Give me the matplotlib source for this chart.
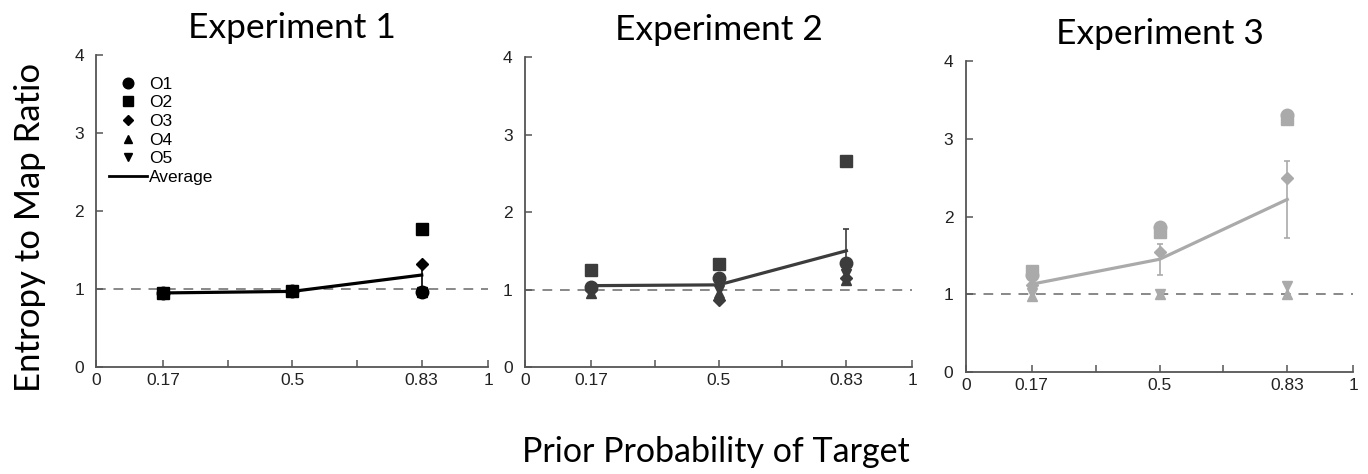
import matplotlib
matplotlib.use("Agg")
import matplotlib.pyplot as plt
from matplotlib.lines import Line2D

# prior probability of target
x = [0.17, 0.5, 0.83]

# experiment 1
e1_o1 = [0.95, 0.97, 0.96]
e1_o2 = [0.95, 0.98, 1.77]
e1_o3 = [0.95, 0.97, 1.32]
e1_o4 = [0.95, 0.97, 0.96]
e1_o5 = [0.95, 0.97, 0.96]
e1_avg = [0.95, 0.97, 1.18]
e1_err = [0.0, 0.0, 0.17]

# experiment 2
e2_o1 = [1.03, 1.15, 1.34]
e2_o2 = [1.25, 1.33, 2.66]
e2_o3 = [1.00, 0.87, 1.15]
e2_o4 = [0.95, 0.95, 1.12]
e2_o5 = [1.00, 1.00, 1.20]
e2_avg = [1.05, 1.06, 1.50]
e2_err = [0.0, 0.0, 0.28]

# experiment 3
e3_o1 = [1.25, 1.87, 3.30]
e3_o2 = [1.30, 1.80, 3.25]
e3_o3 = [1.12, 1.54, 2.50]
e3_o4 = [0.98, 1.00, 1.00]
e3_o5 = [1.02, 1.00, 1.10]
e3_avg = [1.13, 1.45, 2.22]
e3_err = [0.05, 0.20, 0.50]

titles = ["Experiment 1", "Experiment 2", "Experiment 3"]
colors = ["#000000", "#3c3c3c", "#aaaaaa"]
markers = ["o", "s", "D", "^", "v"]
obs_names = ["O1", "O2", "O3", "O4", "O5"]
msizes = [9, 9, 6.5, 7, 7]

xtick_pos = [0, 0.17, 0.335, 0.5, 0.665, 0.83, 1]
xtick_lab = ["0", "0.17", "", "0.5", "", "0.83", "1"]

exps = [
    ([e1_o1, e1_o2, e1_o3, e1_o4, e1_o5], e1_avg, e1_err),
    ([e2_o1, e2_o2, e2_o3, e2_o4, e2_o5], e2_avg, e2_err),
    ([e3_o1, e3_o2, e3_o3, e3_o4, e3_o5], e3_avg, e3_err),
]

fig = plt.figure(figsize=(13.68, 4.74), dpi=100)
positions = [
    [0.0705, 0.2257, 0.2865, 0.658],
    [0.3838, 0.2257, 0.283, 0.654],
    [0.7061, 0.2152, 0.283, 0.656],
]
title_font = "Lato"
tick_font = "Liberation Sans"

for i, (obs, avg, err) in enumerate(exps):
    ax = fig.add_axes(positions[i])
    c = colors[i]
    ax.axhline(1, color="#888888", lw=1.4, ls=(0, (5, 4)), zorder=1)
    for j, vals in enumerate(obs):
        ax.plot(x, vals, ls="none", marker=markers[j], ms=msizes[j],
                color=c, mec=c, zorder=3)
    ax.errorbar(x, avg, yerr=err, color=c, lw=2.3, elinewidth=1.2,
                capsize=2, capthick=1.2, zorder=2)
    ax.set_xlim(0, 1)
    ax.set_ylim(0, 4)
    ax.set_xticks(xtick_pos)
    ax.set_xticklabels(xtick_lab)
    ax.set_yticks([0, 1, 2, 3, 4])
    for s in ["top", "right"]:
        ax.spines[s].set_visible(False)
    for s in ["left", "bottom"]:
        ax.spines[s].set_color("#555555")
        ax.spines[s].set_linewidth(1.3)
    ax.tick_params(direction="in", length=5, width=1.1, color="#555555",
                   labelsize=12.5, labelcolor="#222222")
    ax.tick_params(axis="y", pad=9)
    ax.tick_params(axis="x", pad=4)
    for lab in ax.get_xticklabels() + ax.get_yticklabels():
        lab.set_family(tick_font)
    ax.set_title(titles[i], fontsize=25.5, family=title_font, pad=12)

    if i == 0:
        handles = [Line2D([], [], ls="none", marker=markers[j], ms=msizes[j] * 0.85,
                          color="black") for j in range(5)]
        handles.append(Line2D([], [], color="black", lw=2))
        ax.legend(handles, obs_names + ["Average"], loc="upper left",
                  bbox_to_anchor=(0.0, 0.97), frameon=False,
                  prop={"family": tick_font, "size": 12.5},
                  labelspacing=0.2, handlelength=2.2, handletextpad=0.15,
                  borderaxespad=0.3)

fig.text(0.022, 0.52, "Entropy to Map Ratio", rotation=90, ha="center",
         va="center", fontsize=25, family=title_font)
fig.text(0.523, 0.046, "Prior Probability of Target", ha="center",
         va="center", fontsize=24.5, family=title_font)

fig.savefig("out.png", dpi=100)
